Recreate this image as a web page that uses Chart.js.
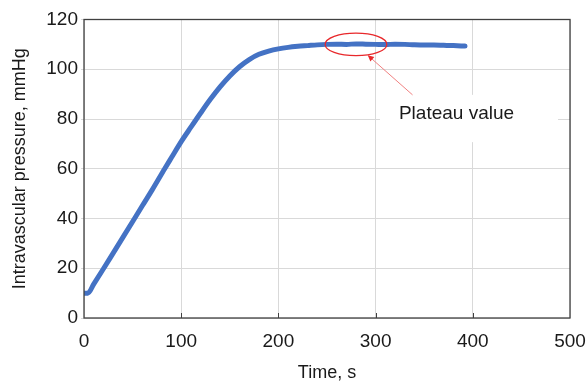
<!DOCTYPE html>
<html>
<head>
<meta charset="utf-8">
<script src="https://cdn.jsdelivr.net/npm/chart.js@4.4.0/dist/chart.umd.min.js"></script>
<style>
  html, body { margin: 0; padding: 0; background: #ffffff; }
  #wrap { width: 587px; height: 383px; position: relative; }
</style>
</head>
<body>
<div id="wrap"><canvas id="c" width="587" height="383"></canvas></div>
<script>
// ---- data ----
const times = [0, 4, 10, 20, 30, 40, 52, 60, 70, 83, 90, 100, 110, 120, 130, 140, 150, 160, 170, 180, 190, 200, 210, 220, 230, 240, 250, 260, 270, 280, 290, 300, 310, 320, 330, 340, 350, 360, 370, 380, 392];
const pressures = [10, 10, 13.6, 19.8, 26.1, 32.4, 40.0, 45.1, 51.4, 60.0, 64.5, 70.9, 76.7, 82.4, 87.9, 92.9, 97.3, 101.0, 103.9, 106.0, 107.3, 108.2, 108.8, 109.2, 109.5, 109.8, 110.0, 110.1, 110.0, 110.2, 110.1, 110.0, 109.9, 110.1, 110.0, 109.8, 109.7, 109.7, 109.6, 109.5, 109.3];
const xTicks = [0, 100, 200, 300, 400, 500];
const yTicks = [0, 20, 40, 60, 80, 100, 120];
const xTitle = 'Time, s';
const yTitle = 'Intravascular pressure, mmHg';
const noteText = 'Plateau value';

const points = times.map((t, i) => ({ x: t, y: pressures[i] }));

const FONT = 'Liberation Sans, Arial, sans-serif';

const annotationPlugin = {
  id: 'plateauNote',
  beforeDatasetsDraw(chart) {
    const { ctx, scales: { x, y } } = chart;
    const x0 = x.getPixelForValue(304.5), x1 = x.getPixelForValue(487.7);
    const y0 = y.getPixelForValue(89.7), y1 = y.getPixelForValue(70.7);
    ctx.save();
    ctx.fillStyle = '#ffffff';
    ctx.fillRect(x0, y0, x1 - x0, y1 - y0);
    ctx.restore();
  },
  afterDatasetsDraw(chart) {
    const { ctx, scales: { x, y }, chartArea } = chart;
    ctx.save();
    ctx.strokeStyle = '#404040';
    ctx.lineWidth = 1.3;
    ctx.strokeRect(chartArea.left, chartArea.top, chartArea.right - chartArea.left, chartArea.bottom - chartArea.top);
    ctx.lineWidth = 1;
    xTicks.slice(1, -1).forEach(v => {
      const px = Math.round(x.getPixelForValue(v)) + 0.5;
      ctx.beginPath();
      ctx.moveTo(px, chartArea.bottom);
      ctx.lineTo(px, chartArea.bottom - 5);
      ctx.stroke();
    });
    const cx = x.getPixelForValue(279.8), cy = y.getPixelForValue(110.0);
    const rx = x.getPixelForValue(311.5) - cx;
    const ry = y.getPixelForValue(105.5) - cy;
    ctx.strokeStyle = '#e8282b';
    ctx.lineWidth = 1.3;
    ctx.beginPath();
    ctx.ellipse(cx, cy, rx, ry, 0, 0, Math.PI * 2);
    ctx.stroke();
    const ax0 = x.getPixelForValue(338), ay0 = y.getPixelForValue(89.7);
    const ax1 = x.getPixelForValue(292), ay1 = y.getPixelForValue(105.6);
    ctx.strokeStyle = '#f08080';
    ctx.lineWidth = 1;
    ctx.beginPath();
    ctx.moveTo(ax0, ay0);
    ctx.lineTo(ax1, ay1);
    ctx.stroke();
    const ang = Math.atan2(ay1 - ay0, ax1 - ax0);
    const hl = 6, hw = 3;
    ctx.fillStyle = '#e8282b';
    ctx.beginPath();
    ctx.moveTo(ax1, ay1);
    ctx.lineTo(ax1 - hl * Math.cos(ang) + hw * Math.sin(ang), ay1 - hl * Math.sin(ang) - hw * Math.cos(ang));
    ctx.lineTo(ax1 - hl * Math.cos(ang) - hw * Math.sin(ang), ay1 - hl * Math.sin(ang) + hw * Math.cos(ang));
    ctx.closePath();
    ctx.fill();
    ctx.fillStyle = '#1a1a1a';
    ctx.font = '19px ' + FONT;
    ctx.textAlign = 'left';
    ctx.textBaseline = 'middle';
    ctx.fillText(noteText, x.getPixelForValue(324), y.getPixelForValue(82.3));
    ctx.restore();
  }
};

new Chart(document.getElementById('c'), {
  type: 'line',
  data: {
    datasets: [{
      data: points,
      borderColor: '#4472c4',
      borderWidth: 5,
      borderCapStyle: 'round',
      borderJoinStyle: 'round',
      pointRadius: 0,
      cubicInterpolationMode: 'monotone',
      fill: false
    }]
  },
  options: {
    responsive: false,
    animation: false,
    devicePixelRatio: 1,
    layout: { padding: { top: 19.5, right: 17, left: 0, bottom: 0 } },
    plugins: { legend: { display: false }, tooltip: { enabled: false } },
    scales: {
      x: {
        type: 'linear',
        min: 0, max: 500,
        afterBuildTicks: s => { s.ticks = xTicks.map(v => ({ value: v })); },
        afterFit: s => { s.height = 65; s.paddingLeft = 0; s.paddingRight = 0; },
        grid: { color: '#d9d9d9', lineWidth: 1, drawTicks: false },
        border: { display: false },
        ticks: { color: '#1a1a1a', font: { size: 19, family: FONT }, padding: 12, maxRotation: 0 },
        title: { display: true, text: xTitle, color: '#1a1a1a', font: { size: 18, family: FONT, lineHeight: 1 }, padding: { top: 0, bottom: 1 } }
      },
      y: {
        type: 'linear',
        min: 0, max: 120,
        afterBuildTicks: s => { s.ticks = yTicks.map(v => ({ value: v })); },
        afterFit: s => { s.width = 84; s.paddingTop = 0; s.paddingBottom = 0; },
        grid: { color: '#d9d9d9', lineWidth: 1, drawTicks: true, tickLength: 3 },
        border: { display: false },
        ticks: { color: '#1a1a1a', font: { size: 19, family: FONT }, padding: 3 },
        title: { display: true, text: yTitle, color: '#1a1a1a', font: { size: 18, family: FONT, lineHeight: 1 }, padding: { top: 11, bottom: 0 } }
      }
    }
  },
  plugins: [annotationPlugin]
});
</script>
</body>
</html>
